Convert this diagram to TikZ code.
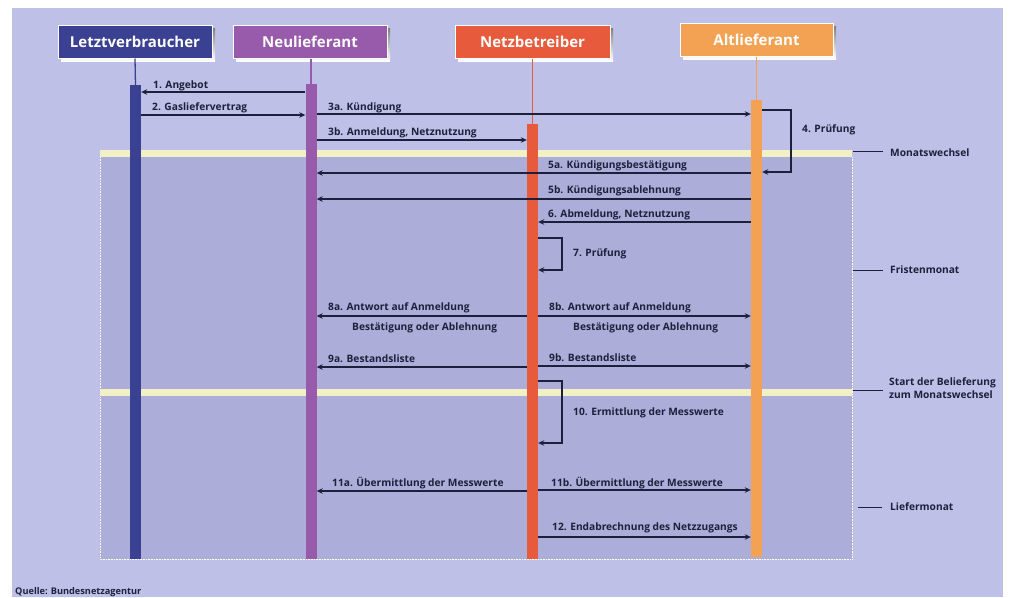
\documentclass[tikz,border=0pt]{standalone}
\usepackage{fontspec}
\setmainfont{Open Sans}
\usetikzlibrary{arrows.meta}
\definecolor{bgout}{RGB}{190,192,231}
\definecolor{bgin}{RGB}{172,174,217}
\definecolor{band}{RGB}{242,241,198}
\definecolor{cLV}{RGB}{58,64,146}
\definecolor{cNL}{RGB}{152,90,170}
\definecolor{cNB}{RGB}{232,90,60}
\definecolor{cAL}{RGB}{242,162,82}
\definecolor{ink}{RGB}{28,32,58}
\definecolor{shade}{RGB}{168,170,214}
\tikzset{
  head/.style={draw=white, line width=1pt, text=white, font=\bfseries\fontsize{15}{17}\selectfont,
    minimum height=33pt, inner sep=0pt},
  bar/.style={anchor=north, minimum width=11pt, inner sep=0pt, draw=none},
  life/.style={line width=1.3pt},
  msg/.style={draw=ink, line width=1.4pt, -{Stealth[length=6pt,width=5.5pt]}},
  lbl/.style={font=\bfseries\fontsize{10.2}{12}\selectfont, text=ink, anchor=base west, inner sep=0pt},
  side/.style={draw=ink, line width=1pt},
}
\begin{document}
\begin{tikzpicture}[x=1pt,y=-1pt]
\useasboundingbox (0,0) rectangle (1009,597);
\fill[white] (0,0) rectangle (1009,597);
\fill[bgout] (12,8) rectangle (1003,597);
\fill[bgin] (100,150) rectangle (852,559);
\draw[white, line width=0.6pt, densely dotted] (100,157) -- (100,559) -- (852,559) -- (852,157);
\fill[band] (100,150) rectangle (852,157);
\fill[band] (100,389) rectangle (852,396);

% header shadows
\fill[shade] (61,28) rectangle (215,61);
\fill[shade] (236,28) rectangle (390,61);
\fill[shade] (458,28) rectangle (613,61);
\fill[shade] (683,26) rectangle (836,59);

% headers
\node[head, fill=cLV, minimum width=154pt] (hLV) at (135,41.5) {Letztverbraucher};
\node[head, fill=cNL, minimum width=154pt] (hNL) at (310,41.5) {Neulieferant};
\node[head, fill=cNB, minimum width=155pt] (hNB) at (532.5,41.5) {Netzbetreiber};
\node[head, fill=cAL, minimum width=153pt] (hAL) at (756.5,39.5) {Altlieferant};

% activation bars
\node[bar, fill=cLV, minimum height=474pt] (bLV) at (135.5,85) {};
\node[bar, fill=cNL, minimum height=475pt] (bNL) at (311,84) {};
\node[bar, fill=cNB, minimum height=435pt] (bNB) at (532.5,124) {};
\node[bar, fill=cAL, minimum height=457pt] (bAL) at (756.5,100) {};

% lifelines
\draw[life, cLV] (hLV.south) -- (bLV.north);
\draw[life, cNL] (hNL.south -| bNL.north) -- (bNL.north);
\draw[life, cNB] (hNB.south) -- (bNB.north);
\draw[life, cAL] (hAL.south) -- (bAL.north);

% messages
\draw[msg] (bNL.west |- 0,92) -- (bLV.east |- 0,92);
\node[lbl] (t1) at (153,88) {1. Angebot};
\draw[msg] (bLV.east |- 0,115) -- (bNL.west |- 0,115);
\node[lbl] (t2) at (152,110) {2. Gasliefervertrag};
\draw[msg] (bNL.east |- 0,114) -- (bAL.west |- 0,114);
\node[lbl] (t3a) at (328,110) {3a. Kündigung};
\draw[msg] (bNL.east |- 0,140) -- (bNB.west |- 0,140);
\node[lbl] (t3b) at (328,135) {3b. Anmeldung, Netznutzung};

\coordinate (p4a) at (791,110);
\coordinate (p4b) at (791,172);
\draw[msg] (bAL.east |- p4a) -- (p4a) -- (p4b) -- (bAL.east |- p4b);
\node[lbl] (t4) at (802,132) {4. Prüfung};

\draw[msg] (bAL.west |- 0,173) -- (bNL.east |- 0,173);
\node[lbl] (t5a) at (548,168) {5a. Kündigungsbestätigung};
\draw[msg] (bAL.west |- 0,199) -- (bNL.east |- 0,199);
\node[lbl] (t5b) at (548,193) {5b. Kündigungsablehnung};
\draw[msg] (bAL.west |- 0,222) -- (bNB.east |- 0,222);
\node[lbl] (t6) at (548,217) {6. Abmeldung, Netznutzung};

\coordinate (p7a) at (562,238);
\coordinate (p7b) at (562,270);
\draw[msg] (bNB.east |- p7a) -- (p7a) -- (p7b) -- (bNB.east |- p7b);
\node[lbl] (t7) at (573,256) {7. Prüfung};

\draw[msg] (bNB.west |- 0,316) -- (bNL.east |- 0,316);
\node[lbl] (t8a) at (328,310) {8a. Antwort auf Anmeldung};
\node[lbl] (t8a2) at (352,330) {Bestätigung oder Ablehnung};
\draw[msg] (bNB.east |- 0,316) -- (bAL.west |- 0,316);
\node[lbl] (t8b) at (549,310) {8b. Antwort auf Anmeldung};
\node[lbl] (t8b2) at (573,330) {Bestätigung oder Ablehnung};

\draw[msg] (bNB.west |- 0,367) -- (bNL.east |- 0,367);
\node[lbl] (t9a) at (328,362) {9a. Bestandsliste};
\draw[msg] (bNB.east |- 0,366) -- (bAL.west |- 0,366);
\node[lbl] (t9b) at (549,361) {9b. Bestandsliste};

\coordinate (p10a) at (562,381);
\coordinate (p10b) at (562,443);
\draw[msg] (bNB.east |- p10a) -- (p10a) -- (p10b) -- (bNB.east |- p10b);
\node[lbl] (t10) at (573,415) {10. Ermittlung der Messwerte};

\draw[msg] (bNB.west |- 0,491) -- (bNL.east |- 0,491);
\node[lbl] (t11a) at (332,486) {11a. Übermittlung der Messwerte};
\draw[msg] (bNB.east |- 0,490) -- (bAL.west |- 0,490);
\node[lbl] (t11b) at (551,486) {11b. Übermittlung der Messwerte};

\draw[msg] (bNB.east |- 0,537) -- (bAL.west |- 0,537);
\node[lbl] (t12) at (552,530) {12. Endabrechnung des Netzzugangs};

% side labels
\coordinate (s1a) at (853,151); \coordinate (s1b) at (883,151);
\draw[side] (s1a) -- (s1b);
\node[lbl] (m1) at (890,156) {Monatswechsel};
\coordinate (s2a) at (853,270); \coordinate (s2b) at (883,270);
\draw[side] (s2a) -- (s2b);
\node[lbl] (m2) at (890,273) {Fristenmonat};
\coordinate (s3a) at (853,390); \coordinate (s3b) at (883,390);
\draw[side] (s3a) -- (s3b);
\node[lbl, align=left, anchor=north west, font=\bfseries\fontsize{10.2}{13}\selectfont] (m3) at (889,377) {Start der Belieferung\\zum Monatswechsel};
\coordinate (s4a) at (858,507); \coordinate (s4b) at (882,507);
\draw[side] (s4a) -- (s4b);
\node[lbl] (m4) at (890,510) {Liefermonat};

\node[lbl, font=\bfseries\fontsize{9.2}{11}\selectfont] (src) at (15,594) {Quelle: Bundesnetzagentur};
\end{tikzpicture}
\end{document}
